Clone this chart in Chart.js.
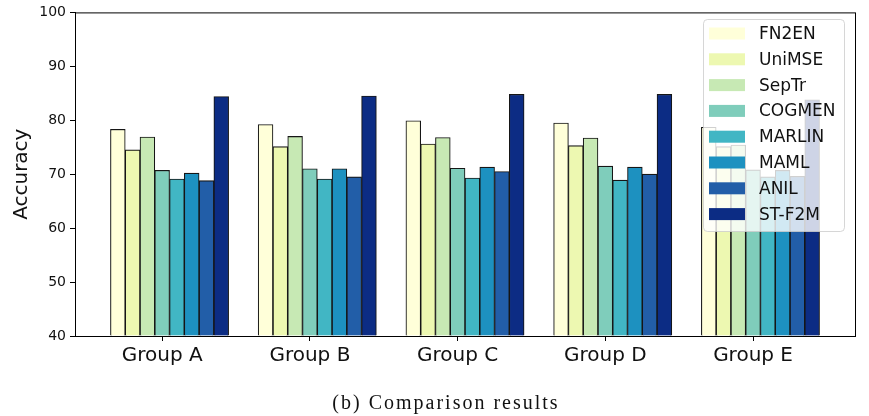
<!DOCTYPE html>
<html>
<head>
<meta charset="utf-8">
<script src="https://cdn.jsdelivr.net/npm/chart.js@4"></script>
<style>
  html, body { margin: 0; padding: 0; background: #fff; }
  #wrap { width: 869px; height: 416px; }
</style>
</head>
<body>
<div id="wrap"><canvas id="chart" width="869" height="416"></canvas></div>
<script>
// Data
let groups = ["Group A", "Group B", "Group C", "Group D", "Group E"];
let methods = ["FN2EN", "UniMSE", "SepTr", "COGMEN", "MARLIN", "MAML", "ANIL", "ST-F2M"];

let fn2en  = [78.3, 79.2, 79.9, 79.5, 78.7];
let unimse = [74.5, 75.1, 75.6, 75.3, 75.1];
let septr  = [76.9, 77.0, 76.8, 76.7, 75.4];
let cogmen = [70.7, 71.0, 71.1, 71.5, 70.8];
let marlin = [69.1, 69.1, 69.3, 68.9, 69.5];
let maml   = [70.2, 71.0, 71.3, 71.3, 70.7];
let anil   = [68.8, 69.5, 70.5, 70.0, 69.6];
let stf2m  = [84.4, 84.5, 84.8, 84.8, 83.8];

let yTicks = [40, 50, 60, 70, 80, 90, 100];

// YlGnBu palette
let barColors = ["#ffffd9", "#edf8b1", "#c7e9b4", "#7fcdbb", "#41b6c4", "#1d91c0", "#225ea8", "#0c2c84"];

let series = [fn2en, unimse, septr, cogmen, marlin, maml, anil, stf2m];
let barStep = 0.1;

// bars sit at group + offset, tick is under the 4th bar
let datasets = methods.map(function (name, i) {
  return {
    label: name,
    data: series[i].map(function (v, j) {
      return { x: j + (i - 3) * barStep, y: v };
    }),
    backgroundColor: barColors[i],
    borderColor: "#161616",
    borderWidth: 1.1,
    base: 40,
    grouped: false,
    barPercentage: 1,
    categoryPercentage: 1,
  };
});

// Frame, overlay legend and caption
let extrasPlugin = {
  id: "extras",
  afterDraw: function (chart) {
    let ctx = chart.ctx;
    let a = chart.chartArea;
    ctx.save();
    ctx.strokeStyle = "#000";
    ctx.lineWidth = 1;
    ctx.strokeRect(a.left + 0.5, a.top + 0.5, a.right - a.left, a.bottom - a.top);

    // legend box
    let lx = 703, ly = 19, lw = 141, lh = 212;
    ctx.beginPath();
    ctx.roundRect(lx + 0.5, ly + 0.5, lw, lh, 4);
    ctx.fillStyle = "rgba(255,255,255,0.8)";
    ctx.fill();
    ctx.strokeStyle = "rgba(204,204,204,0.8)";
    ctx.stroke();

    ctx.font = "17px 'DejaVu Sans'";
    ctx.textBaseline = "middle";
    ctx.textAlign = "left";
    methods.forEach(function (name, i) {
      let cy = 33.5 + i * 25.8;
      ctx.fillStyle = barColors[i];
      ctx.fillRect(709, cy - 6, 36, 12);
      ctx.fillStyle = "#111";
      ctx.fillText(name, 759, cy + 1);
    });

    // caption
    ctx.font = "20px 'Liberation Serif'";
    ctx.letterSpacing = "2px";
    ctx.textAlign = "center";
    ctx.textBaseline = "alphabetic";
    ctx.fillStyle = "#111";
    ctx.fillText("(b) Comparison results", 446, 409);
    ctx.restore();
  },
};

let ctx = document.getElementById("chart").getContext("2d");
new Chart(ctx, {
  type: "bar",
  data: { datasets: datasets },
  options: {
    responsive: false,
    animation: false,
    layout: { padding: { left: 0, right: 14, top: 10, bottom: 0 } },
    plugins: {
      legend: { display: false },
      tooltip: { enabled: false },
    },
    scales: {
      x: {
        type: "linear",
        offset: false,
        min: -0.59,
        max: 4.69,
        afterBuildTicks: function (scale) {
          scale.ticks = groups.map(function (g, j) { return { value: j }; });
        },
        afterFit: function (scale) { scale.height = 80; },
        ticks: {
          callback: function (v, idx) { return groups[idx]; },
          color: "#111",
          font: { family: "DejaVu Sans", size: 20 },
          padding: 3,
          maxRotation: 0,
          autoSkip: false,
        },
        grid: { offset: false, drawOnChartArea: false, tickLength: 5, color: "#000" },
        border: { color: "#000", width: 1 },
      },
      y: {
        min: 40,
        max: 100,
        afterBuildTicks: function (scale) {
          scale.ticks = yTicks.map(function (v) { return { value: v }; });
        },
        afterFit: function (scale) { scale.width = 75; },
        ticks: {
          color: "#111",
          font: { family: "DejaVu Sans", size: 14 },
          padding: 4,
        },
        grid: { drawOnChartArea: false, tickLength: 5, color: "#000" },
        border: { color: "#000", width: 1 },
        title: {
          display: true,
          text: "Accuracy",
          color: "#111",
          font: { family: "DejaVu Sans", size: 20 },
          padding: { top: 10, bottom: 0 },
        },
      },
    },
  },
  plugins: [extrasPlugin],
});
</script>
</body>
</html>
